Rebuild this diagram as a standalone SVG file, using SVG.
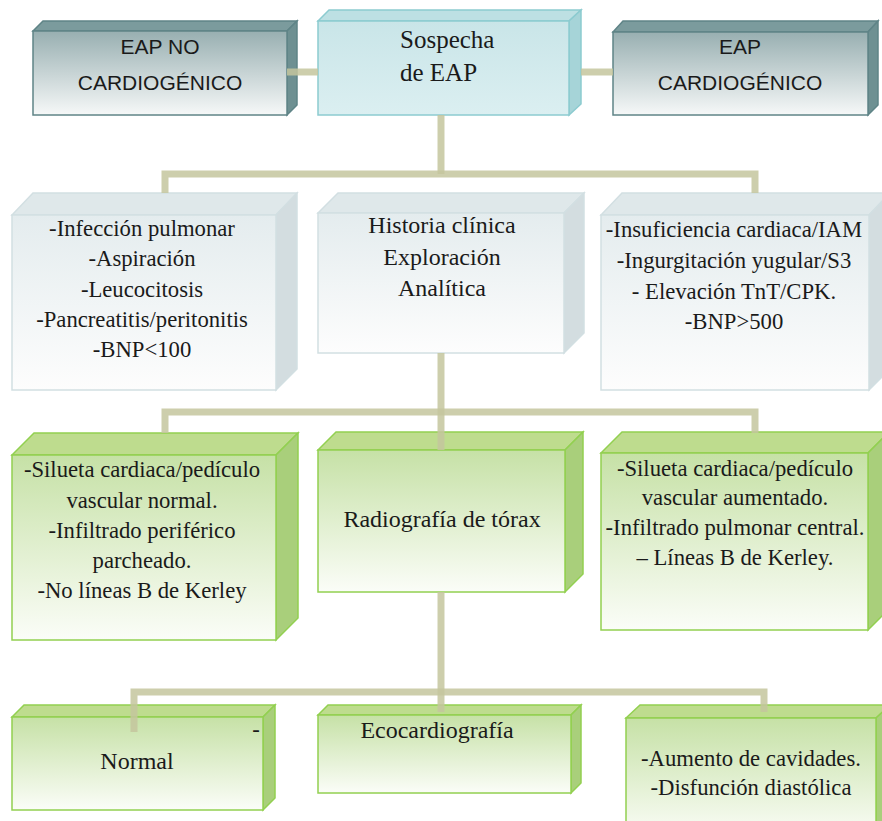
<svg xmlns="http://www.w3.org/2000/svg" width="882" height="821" viewBox="0 0 882 821">
<defs>
<linearGradient id="gGray" x1="0" y1="0" x2="0" y2="1"><stop offset="0" stop-color="#98afb1"/><stop offset="1" stop-color="#f6f8f8"/></linearGradient>
<linearGradient id="gCyan" x1="0" y1="0" x2="0" y2="1"><stop offset="0" stop-color="#c9e5e8"/><stop offset="1" stop-color="#dbeff1"/></linearGradient>
<linearGradient id="gWhite" x1="0" y1="0" x2="0" y2="1"><stop offset="0" stop-color="#e4ecee"/><stop offset="1" stop-color="#fdfdfd"/></linearGradient>
<linearGradient id="gGreen" x1="0" y1="0" x2="0" y2="1"><stop offset="0" stop-color="#c6e1a6"/><stop offset="1" stop-color="#fbfdf8"/></linearGradient>
<style>
.gray .f{fill:url(#gGray);stroke:#5f8487;stroke-width:1.5}
.gray .t{fill:#7b9b9d;stroke:#5f8487;stroke-width:1.5}
.gray .s{fill:#6e9092;stroke:#5f8487;stroke-width:1.5}
.cyan .f{fill:url(#gCyan);stroke:#8ccbd0;stroke-width:1.5}
.cyan .t{fill:#bde0e3;stroke:#8ccbd0;stroke-width:1.5}
.cyan .s{fill:#a6d4d8;stroke:#8ccbd0;stroke-width:1.5}
.white .f{fill:url(#gWhite);stroke:#d2dfe2;stroke-width:1.5}
.white .t{fill:#dfe8ea;stroke:#d2dfe2;stroke-width:1.5}
.white .s{fill:#d3dde0;stroke:#d2dfe2;stroke-width:1.5}
.green .f{fill:url(#gGreen);stroke:#92d050;stroke-width:1.5}
.green .t{fill:#bedc8e;stroke:#92d050;stroke-width:1.5}
.green .s{fill:#a9cf7b;stroke:#92d050;stroke-width:1.5}
.sans{font-family:"Liberation Sans",Arial,sans-serif;font-size:21px;fill:#1a1a1a;text-anchor:middle}
.serif{font-family:"Liberation Serif","Times New Roman",serif;font-size:22.7px;fill:#1a1a1a;text-anchor:middle}
.mid{font-size:24px}
.big{font-size:25px;text-anchor:start}
#connectors path{fill:none;stroke:#c4c69d;stroke-width:7;opacity:0.85}
</style>
</defs>
<rect width="882" height="821" fill="#ffffff"/>

<g id="eap-no-cardiogenico" class="gray">
<polygon class="t" points="33,31 43,21 297,21 287,31"/>
<polygon class="s" points="287,31 297,21 297,105 287,115"/>
<rect class="f" x="33" y="31" width="254" height="84"/>
<text class="sans" x="160" y="54">EAP NO</text>
<text class="sans" x="160" y="90">CARDIOGÉNICO</text>
</g>

<g id="sospecha" class="cyan">
<polygon class="t" points="318,21 329,10 581,10 569,21"/>
<polygon class="s" points="569,21 581,10 581,104 569,115"/>
<rect class="f" x="318" y="21" width="251" height="94"/>
<text class="serif big" x="400" y="48">Sospecha</text>
<text class="serif big" x="400" y="81">de EAP</text>
</g>

<g id="eap-cardiogenico" class="gray">
<polygon class="t" points="613,32 623,21 878,21 868,32"/>
<polygon class="s" points="868,32 878,21 878,105 868,115"/>
<rect class="f" x="613" y="32" width="255" height="83"/>
<text class="sans" x="740" y="54">EAP</text>
<text class="sans" x="740" y="90">CARDIOGÉNICO</text>
</g>

<g id="no-cardio-causas" class="white">
<polygon class="t" points="12,215 33,193 297,193 276,215"/>
<polygon class="s" points="276,215 297,193 297,369 276,390"/>
<rect class="f" x="12" y="215" width="264" height="175"/>
<text class="serif" x="142" y="236">-Infección pulmonar</text>
<text class="serif" x="142" y="266">-Aspiración</text>
<text class="serif" x="142" y="297">-Leucocitosis</text>
<text class="serif" x="142" y="327">-Pancreatitis/peritonitis</text>
<text class="serif" x="142" y="357">-BNP&lt;100</text>
</g>

<g id="historia" class="white">
<polygon class="t" points="318,213 338,193 584,193 564,213"/>
<polygon class="s" points="564,213 584,193 584,333 564,353"/>
<rect class="f" x="318" y="213" width="246" height="140"/>
<text class="serif mid" x="442" y="233">Historia clínica</text>
<text class="serif mid" x="442" y="265">Exploración</text>
<text class="serif mid" x="442" y="296">Analítica</text>
</g>

<g id="cardio-causas" class="white">
<polygon class="t" points="601,215 622,193 890,193 869,215"/>
<polygon class="s" points="869,215 890,193 890,369 869,390"/>
<rect class="f" x="601" y="215" width="268" height="175"/>
<text class="serif" x="734" y="237">-Insuficiencia cardiaca/IAM</text>
<text class="serif" x="734" y="268">-Ingurgitación yugular/S3</text>
<text class="serif" x="734" y="299">- Elevación TnT/CPK.</text>
<text class="serif" x="734" y="329">-BNP&gt;500</text>
</g>

<g id="rx-no-cardio" class="green">
<polygon class="t" points="12,455 34,433 298,433 276,455"/>
<polygon class="s" points="276,455 298,433 298,618 276,640"/>
<rect class="f" x="12" y="455" width="264" height="185"/>
<text class="serif" x="142" y="477">-Silueta cardiaca/pedículo</text>
<text class="serif" x="142" y="508">vascular normal.</text>
<text class="serif" x="142" y="538">-Infiltrado periférico</text>
<text class="serif" x="142" y="568">parcheado.</text>
<text class="serif" x="142" y="598">-No líneas B de Kerley</text>
</g>

<g id="radiografia" class="green">
<polygon class="t" points="318,450 336,432 583,432 565,450"/>
<polygon class="s" points="565,450 583,432 583,574 565,592"/>
<rect class="f" x="318" y="450" width="247" height="142"/>
<text class="serif mid" x="442" y="527">Radiografía de tórax</text>
</g>

<g id="rx-cardio" class="green">
<polygon class="t" points="601,453 622,432 889,432 868,453"/>
<polygon class="s" points="868,453 889,432 889,609 868,630"/>
<rect class="f" x="601" y="453" width="267" height="177"/>
<text class="serif" x="735" y="476">-Silueta cardiaca/pedículo</text>
<text class="serif" x="735" y="505">vascular aumentado.</text>
<text class="serif" x="735" y="535">-Infiltrado pulmonar central.</text>
<text class="serif" x="735" y="565">– Líneas B de Kerley.</text>
</g>

<g id="normal" class="green">
<polygon class="t" points="12,717 24,705 275,705 263,717"/>
<polygon class="s" points="263,717 275,705 275,798 263,810"/>
<rect class="f" x="12" y="717" width="251" height="93"/>
<text class="serif mid" x="137" y="769">Normal</text>
<text class="serif" x="256" y="737">-</text>
</g>

<g id="ecocardiografia" class="green">
<polygon class="t" points="318,715 328,705 581,705 571,715"/>
<polygon class="s" points="571,715 581,705 581,783 571,793"/>
<rect class="f" x="318" y="715" width="253" height="78"/>
<text class="serif mid" x="437" y="738">Ecocardiografía</text>
</g>

<g id="eco-cardio" class="green">
<polygon class="t" points="626,718 640,705 890,705 876,718"/>
<polygon class="s" points="876,718 890,705 890,830 876,840"/>
<rect class="f" x="626" y="718" width="250" height="120"/>
<text class="serif" x="751" y="766">-Aumento de cavidades.</text>
<text class="serif" x="751" y="795">-Disfunción diastólica</text>
</g>

<g id="connectors">
<path d="M287,72 H318"/>
<path d="M581,72 H613"/>
<path d="M441,115 V174"/>
<path d="M165,193 V174 H755 V193"/>
<path d="M441,353 V412"/>
<path d="M165,433 V412 H755 V433"/>
<path d="M441,412 V450"/>
<path d="M441,592 V692"/>
<path d="M134,732 V692 H764 V712"/>
<path d="M441,692 V712"/>
</g>
</svg>
